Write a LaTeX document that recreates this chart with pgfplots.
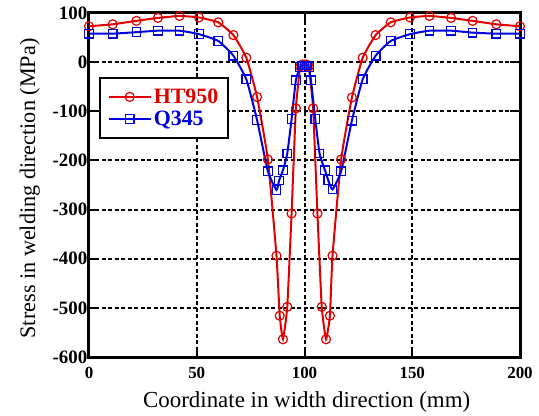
\documentclass[border=0pt]{standalone}
\usepackage{fontspec}
\setmainfont{Liberation Serif}
\usepackage{pgfplots}
\pgfplotsset{compat=1.18}
\definecolor{myred}{RGB}{225,0,0}
\definecolor{myblue}{RGB}{0,0,225}
\begin{document}
\begin{tikzpicture}
\path[use as bounding box] (-89bp,-59bp) rectangle (450bp,357bp);
\begin{axis}[
  at={(0,0)}, anchor=south west,
  scale only axis, width=431bp, height=344bp,
  xmin=0, xmax=200, ymin=-600, ymax=100,
  xtick={0,50,100,150,200},
  ytick={-600,-500,-400,-300,-200,-100,0,100},
  /pgf/number format/assume math mode=true,
  /pgf/number format/1000 sep={},
  xticklabel style={font=\bfseries\fontsize{17}{17}\selectfont, inner sep=1.5bp, yshift=-8.5bp},
  yticklabel style={font=\bfseries\fontsize{19}{19}\selectfont, inner sep=1.5bp},
  tick align=inside,
  major tick length=10bp,
  tick style={black, line width=2bp},
  axis line style={line width=3bp},
  grid=major,
  major grid style={black, dash pattern=on 4bp off 2.5bp, line width=2bp},
  xlabel={Coordinate in width direction (mm)},
  ylabel={Stress in welding direction (MPa)},
  xlabel style={font=\fontsize{23}{24}\selectfont, at={(axis description cs:0.505,-0.148)}, anchor=base},
  ylabel style={font=\fontsize{22.3}{24}\selectfont, at={(axis description cs:-0.125,0.49)}, anchor=base},
  legend style={at={(rel axis cs:0.023,0.814)}, anchor=north west,
    draw=black, line width=1.7bp, fill=white,
    font=\bfseries\fontsize{22}{22}\selectfont,
    inner xsep=8bp, inner ysep=9bp, row sep=2bp},
  legend cell align=left,
  legend image code/.code={\draw[mark repeat=2,mark phase=2] plot coordinates {(0bp,0bp) (21bp,0bp) (42bp,0bp)};},
]
\addplot[myred, line width=2bp, smooth, tension=0.25, mark=o, mark size=4.5bp, mark options={solid, line width=1.2bp}] coordinates {
(0,73) (11,77) (22,84) (32,90) (42,94) (51,91) (60,81) (67,55) (73,9) (78,-71)
(83,-198) (87,-394) (88.5,-516) (90,-564) (92,-498) (94,-308) (96,-94) (98,-9)
(99,-5) (100,-5) (101,-5) (102,-9) (104,-94) (106,-308) (108,-498) (110,-564)
(111.8,-516) (113,-394) (117,-198) (122,-72) (127,9) (133,55) (140,81) (149,91)
(158,94) (168,90) (178,84) (189,77) (200,73)
};
\addlegendentry{\textcolor{myred}{HT950}}
\addplot[myblue, line width=2bp, smooth, tension=0.3, mark=square, mark size=4.3bp, mark options={solid, line width=1.2bp}] coordinates {
(0,58) (11,58) (22,61) (32,64) (42,64) (51,57) (60,43) (67,13) (73,-35) (78,-118)
(83,-222) (87,-260) (88.2,-241) (90,-220) (92,-186) (94,-116) (96,-37) (98,-10)
(99,-7) (100,-7) (101,-7) (102,-10) (103,-37) (105,-116) (107,-186) (109.5,-220)
(111,-240) (113,-259) (117,-222) (122,-119) (127,-35) (133,13) (140,43) (149,57)
(158,64) (168,64) (178,60) (189,58) (200,58)
};
\addlegendentry{\textcolor{myblue}{Q345}}
\end{axis}
\end{tikzpicture}
\end{document}
